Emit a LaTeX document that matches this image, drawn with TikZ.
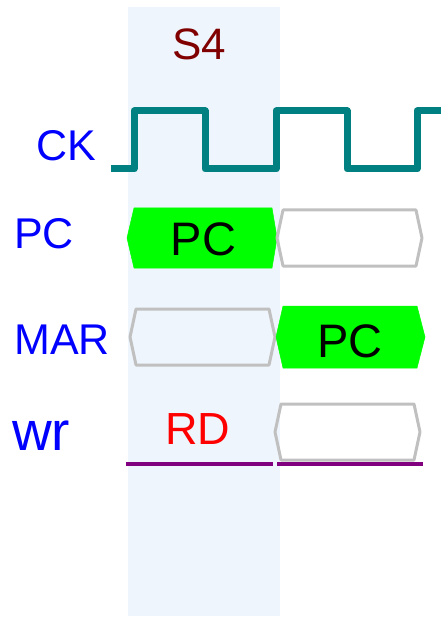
\documentclass[tikz,border=0pt]{standalone}
\usepackage{fontspec}
\setmainfont{Liberation Sans}
\definecolor{bgblue}{HTML}{EEF5FC}
\definecolor{clk}{HTML}{008080}
\definecolor{sigblue}{HTML}{0000FF}
\definecolor{busgreen}{HTML}{00FF00}
\definecolor{busgray}{HTML}{C0C0C0}
\definecolor{wrpurple}{HTML}{800080}
\definecolor{stepred}{HTML}{800000}
\begin{document}
\begin{tikzpicture}[x=1pt,y=-1pt,
  lbl/.style={text=sigblue,inner sep=0pt,anchor=base west,font=\fontsize{43}{43}\selectfont},
  val/.style={inner sep=0pt,anchor=base,font=\fontsize{47}{47}\selectfont},
  grayhex/.style={draw=busgray,line width=3pt,line join=round},
  greenhex/.style={fill=busgreen,draw=busgreen,line width=0.5pt,line join=round},
  wrline/.style={draw=wrpurple,line width=3.5pt}]
\useasboundingbox (0,0) rectangle (440,617);
% step band
\fill[bgblue] (128,7) rectangle (280,616);
\node[inner sep=0pt,anchor=base,text=stepred,font=\fontsize{44}{44}\selectfont] (s4) at (199.5,60) {S4};
% labels
\node[lbl] (ck) at (36,161) {CK};
\node[lbl] (pc) at (14,248) {PC};
\node[lbl] (mar) at (14,354) {MAR};
\node[lbl,font=\fontsize{55}{55}\selectfont] (wr) at (12,450) {wr};
% clock
\draw[clk,line width=7pt,line join=round] (111,169) -- (134,169) -- (134,111) -- (205,111) -- (205,169) -- (276,169) -- (276,111) -- (347,111) -- (347,169) -- (417,169) -- (417,111) -- (442,111);
% PC row
\path[greenhex] (127,238) -- (134,208) -- (272,208) -- (277,238) -- (272,268) -- (134,268) -- cycle;
\node[val] (pcv) at (203.5,255.5) {PC};
\draw[grayhex] (277,238) -- (283,210) -- (416,210) -- (422,238) -- (416,266) -- (283,266) -- cycle;
% MAR row
\draw[grayhex] (130,337) -- (136,309) -- (269,309) -- (275,337) -- (269,365) -- (136,365) -- cycle;
\path[greenhex] (276,337) -- (283,306) -- (417,306) -- (425,337) -- (417,368) -- (283,368) -- cycle;
\node[val] (marv) at (350,357) {PC};
% wr row
\node[val,text=red,font=\fontsize{45}{45}\selectfont] (rd) at (198,444) {RD};
\draw[grayhex] (275,432) -- (281,404) -- (414,404) -- (420,432) -- (414,460) -- (281,460) -- cycle;
\draw[wrline] (126,464) -- (273,464);
\draw[wrline] (277,464) -- (423,464);
\end{tikzpicture}
\end{document}
